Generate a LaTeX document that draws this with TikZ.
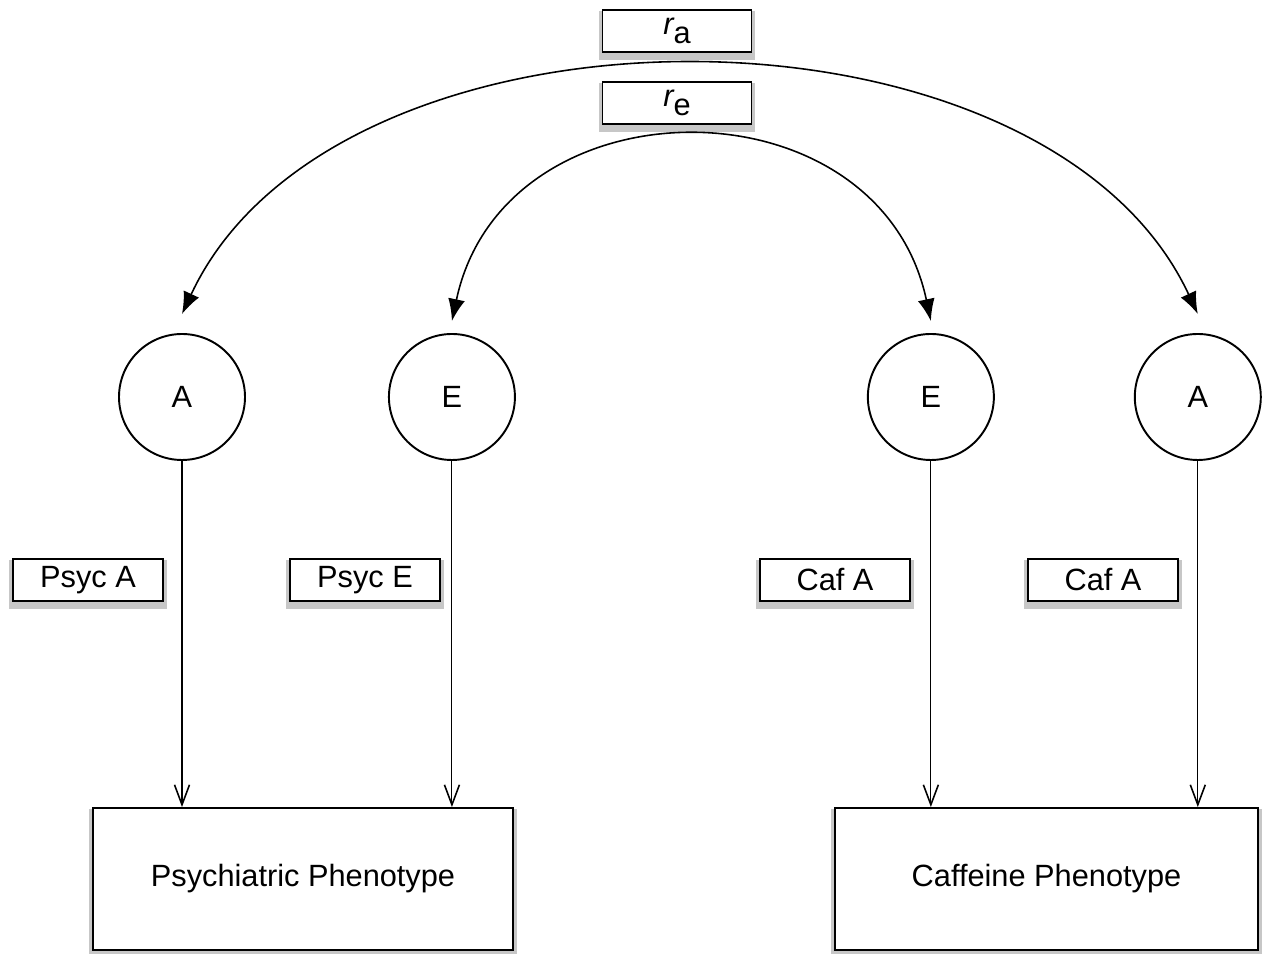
\documentclass[tikz,border=0pt]{standalone}
\usepackage{fontspec}
\setmainfont{Liberation Sans}
\usetikzlibrary{positioning, arrows.meta}
\tikzstyle{Factor} = [
circle, draw,
line width=1.1pt,
minimum size=2.52cm, inner sep=0pt,
font=\fontsize{17.5}{20}\selectfont]
\tikzstyle{Pheno} = [
rectangle, draw, fill=white,
line width=1.1pt,
minimum width=8.4cm, minimum height=2.84cm,
font=\fontsize{17.5}{20}\selectfont,
preaction={draw=black!22, line width=4pt, transform canvas={yshift=-2.5pt}}]
\tikzstyle{Path} = [
rectangle, draw, fill=white,
line width=1.1pt,
minimum width=3cm, minimum height=0.84cm, inner sep=0pt,
font=\fontsize{17.5}{20}\selectfont,
preaction={draw=black!22, line width=4pt, transform canvas={yshift=-2.5pt}}]
\tikzstyle{Arrow} = [
line width=0.6pt,
-{Straight Barb[length=4mm, width=3mm, line width=0.9pt]}]
\tikzstyle{ArrowBoth} = [
line width=0.9pt,
{Latex[length=4.4mm, width=3.4mm]}-{Latex[length=4.4mm, width=3.4mm]}]

\begin{document}
\begin{tikzpicture}
    \useasboundingbox (0,0) rectangle (25.36,19.08);
    \node [Factor] (A1) at (3.64,11.14) {A};
    \node [Factor, right =2.84cm of A1] (E1) {E};
    \node [Factor, right =7.02cm of E1] (E2) {E};
    \node [Factor, right =2.78cm of E2] (A2) {A};
    \node [Pheno] (psy) at (6.06,1.5) {Psychiatric Phenotype};
    \node [Pheno, minimum width=8.46cm] (caf) at (20.93,1.5) {Caffeine Phenotype};
    \node [Path] (pa) at (1.76,7.48) {Psyc A};
    \node [Path] (pe) at (7.30,7.48) {Psyc E};
    \node [Path] (ce) at (16.70,7.48) {Caf A};
    \node [Path] (ca) at (22.06,7.48) {Caf A};
    \node [Path, minimum width=2.98cm] (ra) at (13.54,18.46) {{\itshape r}\raisebox{-0.6ex}{a}};
    \node [Path, minimum width=2.98cm, below =0.56cm of ra] (re) {{\itshape r}\raisebox{-0.6ex}{e}};

    \draw[Arrow] (A1.south) -- (A1.south |- psy.north);
    \draw[Arrow] (E1.south) -- (E1.south |- psy.north);
    \draw[Arrow] (E2.south) -- (E2.south |- caf.north);
    \draw[Arrow] (A2.south) -- (A2.south |- caf.north);
    \draw[ArrowBoth] ([yshift=3.8mm]A1.north) to [out=65, in=115, looseness=0.92] ([yshift=3.8mm]A2.north);
    \draw[ArrowBoth] ([yshift=2.4mm]E1.north) to [out=78, in=102, looseness=1.34] ([yshift=2.4mm]E2.north);
\end{tikzpicture}
\end{document}
